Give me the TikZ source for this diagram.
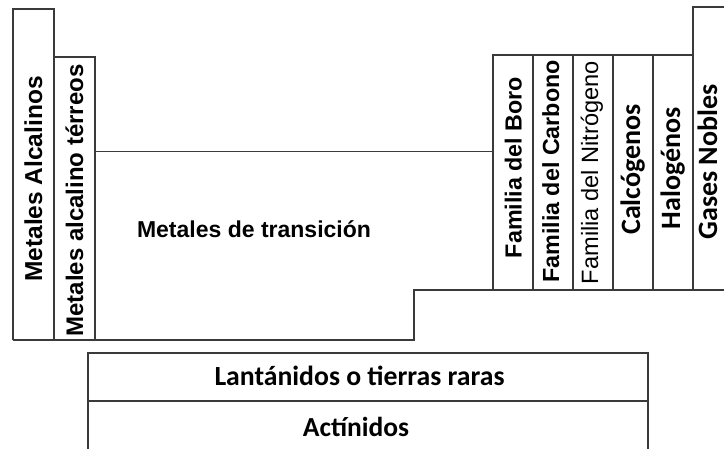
\documentclass[tikz,border=0pt]{standalone}
\usepackage{fontspec}
\newfontfamily\arialf{Liberation Sans}
\newfontfamily\calf{Carlito}
\definecolor{linec}{HTML}{3A3A3A}
\begin{document}
\begin{tikzpicture}[x=1pt,y=-1pt,
  ln/.style={line width=1.5pt, draw=linec, line join=miter},
  lbl/.style={inner sep=0pt, outer sep=0pt, text=black},
  vlbl/.style={lbl, rotate=90, anchor=base},
  hlbl/.style={lbl, anchor=base},
  arb/.style={font=\arialf\bfseries\fontsize{24}{28}\selectfont},
  arbs/.style={font=\arialf\bfseries\fontsize{23.3}{28}\selectfont},
  arr/.style={font=\arialf\fontsize{23.6}{28}\selectfont},
  clb/.style={font=\calf\bfseries\fontsize{28}{32}\selectfont}]
\useasboundingbox[fill=white] (0,0) rectangle (724,448);
% s-block
\draw[ln] (13,340) -- (13,9) -- (54,9) -- (54,340);
\draw[ln] (54,57) -- (95,57) -- (95,340);
\draw[ln] (13,340) -- (414,340) -- (414,290) -- (725,290);
% d-block top
\draw[ln] (95,151.5) -- (493,151.5);
% p-block
\draw[ln] (493,290) -- (493,55) -- (693,55);
\foreach \xx in {533,573,613,653} \draw[ln] (\xx,55) -- (\xx,290);
\draw[ln] (693,290) -- (693,7) -- (725,7);
% f-block
\draw[ln] (88,449) -- (88,353) -- (648,353) -- (648,449);
\draw[ln] (88,401) -- (648,401);
% labels
\node[vlbl, font=\arialf\bfseries\fontsize{24.5}{28}\selectfont] (alc) at (42,179) {Metales Alcalinos};
\node[vlbl, arb] (alt) at (83,200.5) {Metales alcalino térreos};
\node[hlbl, font=\arialf\bfseries\fontsize{23}{28}\selectfont] (tra) at (254,237) {Metales de transición};
\node[vlbl, arbs] (bor) at (521.5,167.5) {Familia del Boro};
\node[vlbl, arbs] (car) at (559,171.5) {Familia del Carbono};
\node[vlbl, arr] (nit) at (598,172.5) {Familia del Nitrógeno};
\node[vlbl, clb] (cal) at (640,169.5) {Calcógenos};
\node[vlbl, clb] (hal) at (680,168.5) {Halogénos};
\node[vlbl, clb] (gas) at (717,162) {Gases Nobles};
\node[hlbl, font=\calf\bfseries\fontsize{27.7}{32}\selectfont] (lan) at (359.5,385) {Lantánidos o tierras raras};
\node[hlbl, font=\calf\bfseries\fontsize{27.5}{32}\selectfont] (act) at (356,436) {Actínidos};
\end{tikzpicture}
\end{document}
